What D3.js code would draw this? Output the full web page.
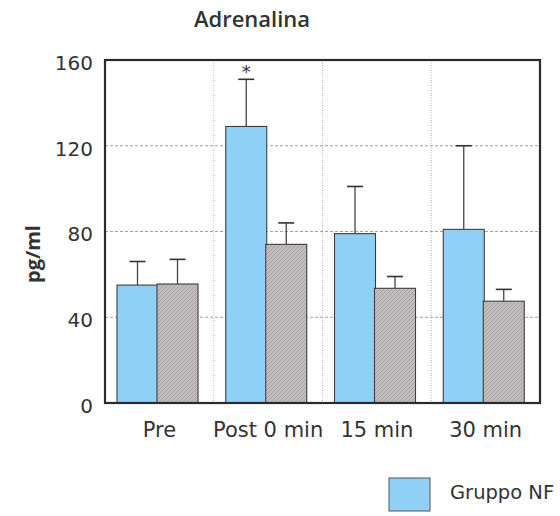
<!DOCTYPE html>
<html>
<head>
<meta charset="utf-8">
<script src="https://cdn.jsdelivr.net/npm/d3@7"></script>
<style>
body { margin: 0; background: #fff; }
svg { display: block; }
</style>
</head>
<body>
<svg id="chart" width="560" height="516"></svg>
<script>
// values
var categories = ["Pre", "Post 0 min", "15 min", "30 min"]
var groups = ["NF", "altro"]
var meanNF = [55, 129, 79, 81]
var errNF = [66, 151, 101, 120]
var meanAltro = [55.5, 74, 53.5, 47.5]
var errAltro = [67, 84, 59, 53]
var signif = [false, true, false, false]
var yTicks = [0, 40, 80, 120, 160]

var svg = d3.select("#chart")
var margin = {left: 105, top: 60, right: 20, bottom: 113}
var width = 540 - margin.left
var height = 403 - margin.top

var colors = {NF: "#90d0f6", altro: "#b9b4b6"}

// hatch for the grey bars
var defs = svg.append("defs")
var pat = defs.append("pattern")
    .attr("id", "hatch")
    .attr("patternUnits", "userSpaceOnUse")
    .attr("width", 4).attr("height", 4)
pat.append("rect").attr("width", 4).attr("height", 4).attr("fill", "#c0bbbd")
pat.append("path").attr("d", "M-1,1 l2,-2 M0,4 l4,-4 M3,5 l2,-2")
    .attr("stroke", "#a9a4a6").attr("stroke-width", 1)

var g = svg.append("g").attr("transform", "translate(" + margin.left + "," + margin.top + ")")

var x = d3.scaleBand().domain(categories).range([0, width]).padding(0)
var y = d3.scaleLinear().domain([0, 160]).range([height, 0])

// horizontal dashed grid
g.selectAll(".hgrid")
    .data(yTicks.filter(function(t){ return t > 0 && t < 160 }))
    .enter().append("line")
    .attr("x1", 0).attr("x2", width)
    .attr("y1", function(t){ return y(t) })
    .attr("y2", function(t){ return y(t) })
    .attr("stroke", "#8a8a8a")
    .attr("stroke-width", 0.8)
    .attr("stroke-dasharray", "3,2")

// vertical dotted grid between groups
g.selectAll(".vgrid")
    .data(categories.slice(1))
    .enter().append("line")
    .attr("x1", function(c){ return x(c) })
    .attr("x2", function(c){ return x(c) })
    .attr("y1", 0).attr("y2", height)
    .attr("stroke", "#a0a0a0")
    .attr("stroke-width", 0.8)
    .attr("stroke-dasharray", "1,1.5")

var barW = 41
var offsets = {NF: 12, altro: 52}

var series = [
    {key: "NF", mean: meanNF, err: errNF, fill: colors.NF},
    {key: "altro", mean: meanAltro, err: errAltro, fill: "url(#hatch)"}
]

series.forEach(function(s)
{
    var rows = categories.map(function(c, i)
    {
        return {cat: c, mean: s.mean[i], err: s.err[i], sig: signif[i]}
    })

    var cx = function(d){ return x(d.cat) + offsets[s.key] + barW / 2 }

    // error bars (upper only)
    g.selectAll(".err-" + s.key)
        .data(rows)
        .enter().append("line")
        .attr("x1", cx).attr("x2", cx)
        .attr("y1", function(d){ return y(d.mean) })
        .attr("y2", function(d){ return y(d.err) })
        .attr("stroke", "#444").attr("stroke-width", 1.3)

    g.selectAll(".cap-" + s.key)
        .data(rows)
        .enter().append("line")
        .attr("x1", function(d){ return cx(d) - 8 })
        .attr("x2", function(d){ return cx(d) + 8 })
        .attr("y1", function(d){ return y(d.err) })
        .attr("y2", function(d){ return y(d.err) })
        .attr("stroke", "#333").attr("stroke-width", 1.6)

    g.selectAll(".bar-" + s.key)
        .data(rows)
        .enter().append("rect")
        .attr("x", function(d){ return x(d.cat) + offsets[s.key] })
        .attr("y", function(d){ return y(d.mean) })
        .attr("width", barW)
        .attr("height", function(d){ return height - y(d.mean) })
        .attr("fill", s.fill)
        .attr("stroke", "#3d3d3d")
        .attr("stroke-width", 1.1)

    if (s.key == "NF")
    {
        g.selectAll(".star")
            .data(rows.filter(function(d){ return d.sig }))
            .enter().append("text")
            .attr("x", cx)
            .attr("y", function(d){ return y(d.err) - 1 })
            .attr("text-anchor", "middle")
            .attr("font-family", "DejaVu Sans, sans-serif")
            .attr("font-size", 18)
            .attr("fill", "#333")
            .text("*")
    }
})

// frame
g.append("rect")
    .attr("x", 0).attr("y", 0)
    .attr("width", width).attr("height", height)
    .attr("fill", "none")
    .attr("stroke", "#2b2b2b")
    .attr("stroke-width", 2.2)

// y axis labels
var yAxis = d3.axisLeft(y).tickValues(yTicks).tickSize(0).tickPadding(12)
var ya = g.append("g").call(yAxis)
ya.select(".domain").remove()
ya.selectAll("text")
    .attr("dy", "0.47em")
    .attr("font-family", "DejaVu Sans, sans-serif")
    .attr("font-size", 20)
    .attr("fill", "#333")

// x axis labels
var xAxis = d3.axisBottom(x).tickSize(0).tickPadding(19)
var xa = g.append("g").attr("transform", "translate(0," + height + ")").call(xAxis)
xa.select(".domain").remove()
xa.selectAll("text")
    .attr("font-family", "DejaVu Sans, sans-serif")
    .attr("font-size", 21)
    .attr("fill", "#333")

// title
svg.append("text")
    .attr("x", 252).attr("y", 27)
    .attr("text-anchor", "middle")
    .attr("font-family", "Open Sans, sans-serif")
    .attr("font-weight", 600)
    .attr("font-size", 22)
    .attr("fill", "#333")
    .text("Adrenalina")

// y title
svg.append("text")
    .attr("transform", "translate(40,254) rotate(-90)")
    .attr("text-anchor", "middle")
    .attr("font-family", "Open Sans, sans-serif")
    .attr("font-weight", 700)
    .attr("font-size", 20)
    .attr("fill", "#333")
    .text("pg/ml")

// legend
var legend = svg.append("g").attr("transform", "translate(389,478)")
legend.append("rect")
    .attr("width", 41).attr("height", 33)
    .attr("fill", colors.NF)
    .attr("stroke", "#555").attr("stroke-width", 1)
legend.append("text")
    .attr("x", 61).attr("y", 21)
    .attr("font-family", "DejaVu Sans, sans-serif")
    .attr("font-size", 19.5)
    .attr("fill", "#333")
    .text("Gruppo NF")
</script>
</body>
</html>
